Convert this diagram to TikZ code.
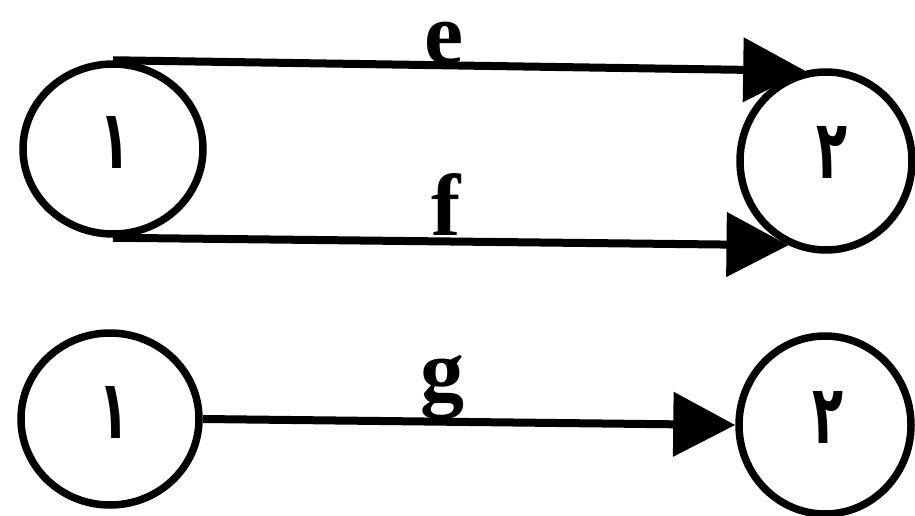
\documentclass[tikz,border=0pt]{standalone}
\usepackage{graphicx}
\usepackage{fontspec}
\setmainfont{Liberation Serif}
\newfontfamily\arabicfont[Script=Arabic]{DejaVu Sans}
\TeXXeTstate=1
\usetikzlibrary{shapes.geometric,arrows.meta}
\newcommand{\pdigit}[1]{\scalebox{0.62}[1]{\beginR #1\endR}}
\begin{document}
\begin{tikzpicture}[x=1pt,y=-1pt,
  state/.style={ellipse,draw,line width=7.5pt,inner sep=0pt},
  digit/.style={inner sep=0pt,font=\arabicfont\bfseries\fontsize{82}{90}\selectfont},
  conn/.style={line width=8pt,-{Triangle[length=62pt,width=63pt]}},
  lbl/.style={anchor=base,inner sep=0pt,font=\bfseries\fontsize{88}{96}\selectfont}]
\useasboundingbox (0,0) rectangle (915,516);
\node[state,minimum width=180pt,minimum height=170pt,
  label={[digit,name=d1,xshift=2pt,yshift=7pt]center:\pdigit{۱}}] (a1) at (113,149) {};
\node[state,minimum width=172pt,minimum height=178pt,
  label={[digit,name=d2,xshift=6pt,yshift=9pt]center:\pdigit{۲}}] (a2) at (826,161) {};
\node[state,minimum width=178pt,minimum height=172pt,
  label={[digit,name=d3,xshift=4pt,yshift=7pt]center:\pdigit{۱}}] (b1) at (110,419) {};
\node[state,minimum width=172pt,minimum height=178pt,
  label={[digit,name=d4,xshift=3pt,yshift=8pt]center:\pdigit{۲}}] (b2) at (825,425) {};
\draw[conn] (a1.north) -- (a2.103);
\draw[conn] (a1.south) -- (a2.246);
\draw[conn] (b1.east) -- (b2.west);
\node[lbl] (le) at (444,64) {e};
\node[lbl] (lf) at (446,235) {f};
\node[lbl] (lg) at (442,400) {g};
\end{tikzpicture}
\end{document}
